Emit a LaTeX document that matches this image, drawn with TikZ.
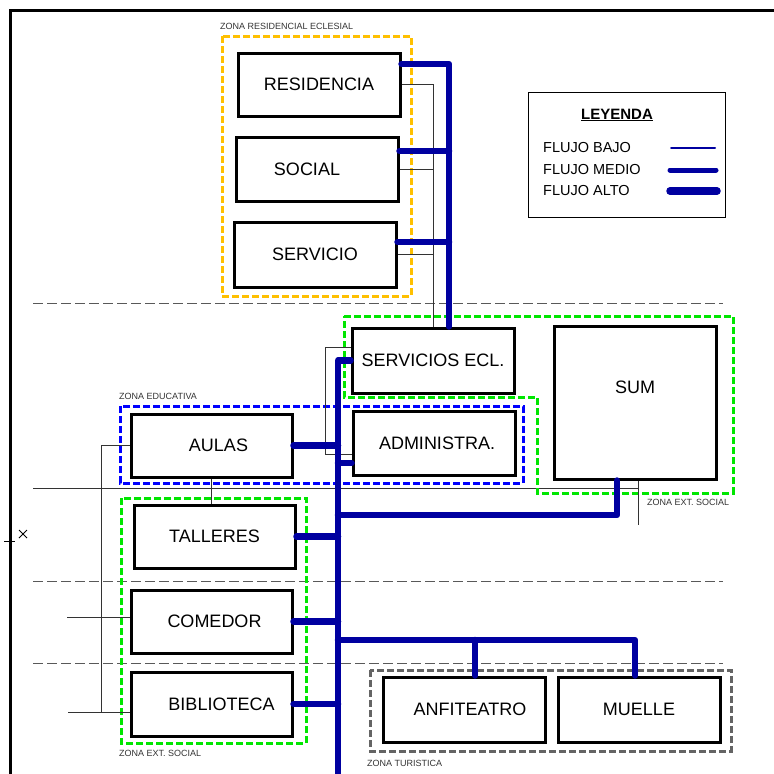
\documentclass[tikz,border=0pt]{standalone}
\usepackage{fontspec}
\setmainfont{Liberation Sans}

\definecolor{flujo}{RGB}{0,0,160}
\definecolor{zonaamarilla}{RGB}{255,192,0}
\definecolor{zonaverde}{RGB}{0,230,0}
\definecolor{zonaazul}{RGB}{0,0,255}
\definecolor{zonagris}{RGB}{100,100,100}

\tikzset{
	ambiente/.style={draw, line width=3pt, fill=white, inner sep=0pt, minimum width=162pt, minimum height=64pt, font=\fontsize{18}{20}\selectfont},
	zona/.style={line width=3pt, dash pattern=on 7pt off 3pt},
	rotulo/.style={inner sep=0pt, anchor=base west, text=black!80, font=\fontsize{9}{10}\selectfont},
	corte/.style={draw=black!65, line width=0.8pt, dash pattern=on 10pt off 4pt},
	enlace/.style={draw=black!80, line width=0.9pt},
	bajo/.style={draw=flujo, line width=2pt, line cap=round},
	medio/.style={draw=flujo, line width=5pt, line cap=round},
	alto/.style={draw=flujo, line width=6.5pt, line cap=round, line join=round},
	leyenda/.style={anchor=west, inner sep=0pt, font=\fontsize{14.5}{16}\selectfont}
}

\begin{document}
\begin{tikzpicture}[x=1pt, y=-1pt]
		\useasboundingbox (0,0) rectangle (774,774);
		
		%marco
		\draw[line width=3pt] (10,774) -- (10,10) -- (774,10);
		\draw[line width=0.8pt] (4,541) -- (15,541);
		\draw[line width=0.8pt] (19,530) -- (27,538) (19,538) -- (27,530);
		
		%cortes
		\foreach \y in {303.5,581.5,663.5}
			\draw[corte] (33,\y) -- (723,\y);
		\draw[enlace] (33,488) -- (638,488);
		
		%zonas
		\draw[zona, zonaamarilla] (222,36) rectangle (411,296);
		\draw[zona, zonaverde] (344,316) -- (733,316) -- (733,493) -- (537,493) -- (537,397) -- (344,397) -- cycle;
		\draw[zona, zonaazul] (120,406) rectangle (523,483);
		\draw[zona, zonaverde] (121,498) rectangle (306,743);
		\draw[zona, zonagris] (370,670) rectangle (731,751);
		\node[rotulo] (zres) at (220,29.5) {ZONA RESIDENCIAL ECLESIAL};
		\node[rotulo] (zedu) at (119,399.5) {ZONA EDUCATIVA};
		\node[rotulo] (zsoca) at (647,505) {ZONA EXT. SOCIAL};
		\node[rotulo] (zsocb) at (119,756) {ZONA EXT. SOCIAL};
		\node[rotulo] (ztur) at (367,766) {ZONA TURISTICA};
		
		%ambientes
		\node[ambiente, minimum height=63pt] (res) at (319,84.5) {RESIDENCIA};
		\node[ambiente] (soc) at (317,169) {SOCIAL\hspace*{20pt}};
		\node[ambiente, minimum height=65pt] (ser) at (315,254.5) {SERVICIO};
		\node[ambiente, minimum height=65pt] (secl) at (433,360.5) {SERVICIOS ECL.};
		\node[ambiente, minimum height=153pt, label={[yshift=15pt, font=\fontsize{18}{20}\selectfont]center:SUM}] (sum) at (635,402.5) {};
		\node[ambiente] (adm) at (434,443) {\hspace*{6pt}ADMINISTRA.};
		\node[ambiente, minimum width=161pt, minimum height=63pt] (aulas) at (211.5,445.5) {\hspace*{14pt}AULAS};
		\node[ambiente, minimum width=161pt, minimum height=63pt] (tal) at (214.5,536.5) {TALLERES};
		\node[ambiente, minimum width=161pt, minimum height=63pt] (com) at (211.5,621.5) {\hspace*{6pt}COMEDOR};
		\node[ambiente, minimum width=161pt] (bib) at (211.5,704) {\hspace*{20pt}BIBLIOTECA};
		\node[ambiente, minimum height=65pt] (anf) at (464,709.5) {\hspace*{12pt}ANFITEATRO};
		\node[ambiente, minimum height=65pt] (mue) at (639,709.5) {MUELLE};
		
		%enlaces
		\draw[enlace] (res.east) -| (secl.north);
		\draw[enlace] (soc.east) -- (soc.east -| secl.north);
		\draw[enlace] (ser.east) -- (ser.east -| secl.north);
		\coordinate (eadm) at ([yshift=-11pt]adm.west);
		\draw[enlace] ([yshift=13.5pt]secl.west) -- ++(-25,0) |- (eadm);
		\draw[enlace] (aulas.south) -- (aulas.south |- tal.north);
		\coordinate (ebib) at ([yshift=-8pt]bib.west);
		\coordinate (ecom) at ([yshift=4.5pt]com.west);
		\draw[enlace] (aulas.west) -- ++(-28,0) |- (ebib);
		\draw[enlace] (ebib) -- ++(-62,0);
		\draw[enlace] (ecom) -- ++(-63,0);
		\draw[enlace] ([xshift=3pt]sum.south) -- ++(0,44);
		
		%flujos
		\coordinate (troncoA) at (449,64);
		\coordinate (troncoB) at (338,774);
		\draw[alto] ([yshift=20.5pt]res.east) -- (troncoA) -- (troncoA |- secl.north);
		\coordinate (bsoc) at ([yshift=18pt]soc.east);
		\coordinate (bser) at ([yshift=12.5pt]ser.east);
		\draw[alto] (bsoc) -- (bsoc -| troncoA);
		\draw[alto] (bser) -- (bser -| troncoA);
		
		\draw[alto] (secl.west) -| (troncoB);
		\draw[alto] (aulas.east) -- (aulas.east -| troncoB);
		\coordinate (badm) at ([yshift=-20pt]adm.west);
		\draw[alto] (badm) -- (badm -| troncoB);
		\coordinate (bsum) at ([xshift=-18pt]sum.south);
		\draw[alto] (bsum) |- (troncoB |- 0,515);
		\draw[alto] (tal.east) -- (tal.east -| troncoB);
		\draw[alto] (com.east) -- (com.east -| troncoB);
		\draw[alto] (bib.east) -- (bib.east -| troncoB);
		\coordinate (banf) at ([xshift=11pt]anf.north);
		\coordinate (bmue) at ([xshift=-4pt]mue.north);
		\draw[alto] (troncoB |- 0,640) -| (bmue);
		\draw[alto] (banf) -- (banf |- 0,640);
		
		%leyenda
		\draw[line width=0.8pt] (528,92) rectangle (725,217);
		\node[font=\fontsize{15}{17}\selectfont\bfseries] (ley) at (617,115) {\underline{LEYENDA}};
		\node[leyenda] (lbajo) at (543,148) {FLUJO BAJO};
		\node[leyenda] (lmedio) at (543,170) {FLUJO MEDIO};
		\node[leyenda] (lalto) at (543,191) {FLUJO ALTO};
		\draw[bajo] (lbajo.east -| 671,0) -- ++(44,0);
		\draw[medio] (lmedio.east -| 670,0) -- ++(46,0);
		\draw[alto, line width=7.5pt] (lalto.east -| 670,0) -- ++(47,0);
	
	\end{tikzpicture}
\end{document}
